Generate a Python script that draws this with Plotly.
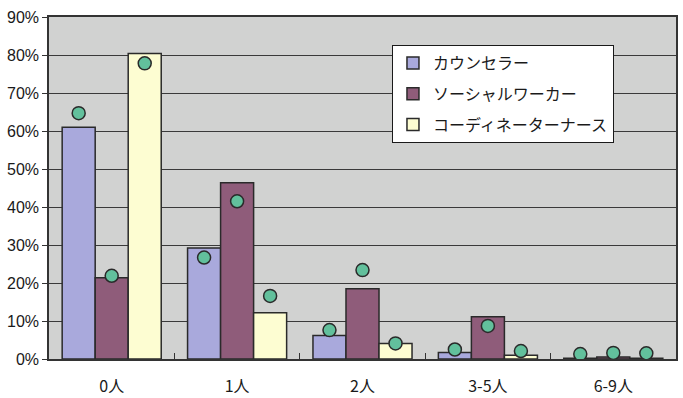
import plotly.graph_objects as go

categories = ["0人", "1人", "2人", "3-5人", "6-9人"]
series_names = ["カウンセラー", "ソーシャルワーカー", "コーディネーターナース"]
counselor = [61.0, 29.2, 6.2, 1.7, 0.2]
social_worker = [21.4, 46.4, 18.5, 11.1, 0.5]
coordinator = [80.4, 12.2, 4.1, 1.0, 0.2]
counselor_dot = [64.7, 26.7, 7.6, 2.5, 1.3]
social_worker_dot = [21.9, 41.5, 23.4, 8.7, 1.6]
coordinator_dot = [77.8, 16.6, 4.1, 2.1, 1.5]
y_ticks = [0, 10, 20, 30, 40, 50, 60, 70, 80, 90]
y_tick_labels = [f"{v}%" for v in y_ticks]

bar_colors = ["#a9a9dc", "#8f5c7a", "#fdfdd2"]
dot_color = "#62c09c"
font_family = "Noto Sans CJK JP, Noto Sans, sans-serif"
num_font = "Liberation Sans, Arial, sans-serif"

fig = go.Figure()
bar_values = [counselor, social_worker, coordinator]
dot_values = [counselor_dot, social_worker_dot, coordinator_dot]
for i, (name, vals) in enumerate(zip(series_names, bar_values)):
    fig.add_trace(go.Bar(
        x=categories, y=vals, name=name, offsetgroup=str(i), legendgroup=str(i),
        marker=dict(color=bar_colors[i], line=dict(color="#2a2a2a", width=1.5)),
    ))
for i, vals in enumerate(dot_values):
    fig.add_trace(go.Scatter(
        x=categories, y=vals, mode="markers", offsetgroup=str(i),
        showlegend=False,
        marker=dict(color=dot_color, size=13, line=dict(color="#2a2a2a", width=1.5)),
    ))

fig.update_layout(
    width=683, height=398,
    margin=dict(l=49, r=7, t=17, b=39),
    barmode="group", bargap=0.21, bargroupgap=0,
    scattermode="group", scattergap=0.21,
    paper_bgcolor="white", plot_bgcolor="#d1d2d1",
    font=dict(family=font_family, size=16, color="#1a1a1a"),
    legend=dict(
        x=0.547, y=0.918, xanchor="left", yanchor="top",
        bgcolor="white", bordercolor="#1a1a1a", borderwidth=1,
        font=dict(size=16), traceorder="grouped", tracegroupgap=7,
    ),
    xaxis=dict(
        showline=True, linecolor="#333", linewidth=1.5, mirror=True,
        ticks="inside", ticklen=6, tickcolor="#333", tickson="boundaries",
        tickfont=dict(size=16), showgrid=False, ticklabelstandoff=12,
        automargin=False,
    ),
    yaxis=dict(
        range=[0, 90], tickvals=y_ticks, ticktext=y_tick_labels,
        showline=True, linecolor="#333", linewidth=1.5, mirror=True,
        ticks="outside", ticklen=5, tickcolor="#333",
        gridcolor="#3a3a3a", gridwidth=1, zeroline=False,
        tickfont=dict(size=16, family=num_font), automargin=False,
    ),
)

fig.write_html("out.html")
